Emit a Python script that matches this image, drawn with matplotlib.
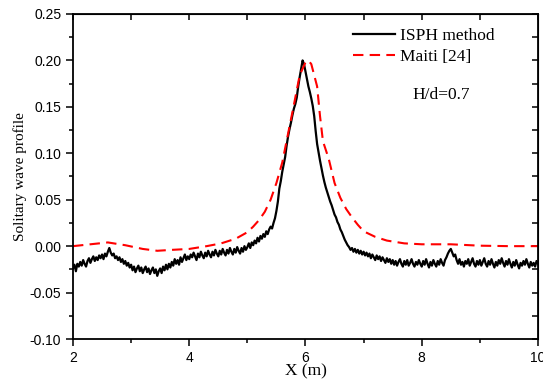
import numpy as np
import matplotlib
matplotlib.use("Agg")
import matplotlib.pyplot as plt

# ISPH method, read every 0.025 m from x=2 to x=10 (values in 1e-3)
isph_x = np.linspace(2.0, 10.0, 321)
isph_y = np.array([
    -24, -20, -27, -19, -22, -17, -21, -15, -19, -22, -16, -13, -18, -14, -11, -16, -12, -15, -10, -13,
    -9, -14, -8, -11, -6, -2, -7, -10, -8, -13, -11, -15, -12, -17, -14, -19, -16, -21, -18, -23,
    -20, -26, -22, -28, -24, -21, -27, -23, -29, -25, -22, -28, -24, -30, -26, -23, -29, -25, -32, -27,
    -24, -29, -22, -26, -20, -25, -19, -23, -17, -21, -14, -19, -15, -20, -12, -17, -13, -9, -15, -11,
    -14, -9, -12, -7, -11, -15, -8, -12, -6, -10, -13, -7, -11, -5, -9, -12, -6, -10, -4, -8,
    -11, -5, -9, -3, -7, -10, -4, -8, -2, -6, -9, -3, -7, -1, -5, -8, -2, -6, 0, -4,
    -1, 3, -2, 4, 1, 6, 3, 9, 5, 11, 8, 13, 10, 16, 13, 18, 21, 19, 25, 30,
    38, 48, 62, 70, 80, 88, 96, 108, 118, 126, 133, 141, 148, 153, 160, 172, 182, 191, 200, 196,
    188, 180, 172, 166, 159, 151, 140, 124, 110, 101, 92, 84, 76, 69, 63, 58, 53, 48, 44, 39,
    34, 31, 26, 23, 18, 15, 11, 7, 4, 1, -1, -4, -2, -6, -3, -7, -4, -8, -5, -9,
    -6, -10, -7, -11, -8, -13, -9, -12, -15, -10, -14, -11, -16, -12, -15, -18, -13, -17, -14, -19,
    -15, -20, -16, -21, -17, -14, -19, -22, -16, -20, -15, -21, -18, -14, -19, -22, -17, -20, -15, -19,
    -22, -16, -20, -14, -19, -23, -17, -21, -15, -19, -22, -16, -20, -14, -18, -21, -15, -12, -8, -5,
    -3, -7, -11, -9, -15, -19, -14, -20, -17, -22, -16, -19, -14, -21, -17, -13, -19, -22, -16, -20,
    -15, -21, -17, -13, -19, -22, -16, -20, -14, -19, -23, -17, -21, -15, -19, -13, -18, -22, -16, -20,
    -14, -19, -23, -17, -21, -15, -20, -24, -18, -21, -16, -20, -14, -19, -23, -17, -21, -18, -22, -16,
    -19]) / 1000.0

# Maiti [24]
maiti_x = [2.0, 2.3, 2.6, 2.9, 3.2, 3.45, 3.7, 4.0, 4.3, 4.55, 4.8, 5.0, 5.1,
           5.2, 5.3, 5.4, 5.5, 5.6, 5.7, 5.8, 5.9, 6.0, 6.05, 6.1, 6.2, 6.25,
           6.3, 6.4, 6.5, 6.6, 6.7, 6.8, 6.9, 7.0, 7.2, 7.4, 7.7, 8.0, 8.5,
           9.0, 9.5, 10.0]
maiti_y = [0.000, 0.002, 0.004, 0.001, -0.003, -0.005, -0.004, -0.003, 0.000,
           0.003, 0.008, 0.015, 0.021, 0.028, 0.037, 0.050, 0.068, 0.090,
           0.121, 0.152, 0.184, 0.198, 0.200, 0.196, 0.172, 0.140, 0.113,
           0.094, 0.068, 0.052, 0.040, 0.031, 0.023, 0.016, 0.010, 0.006,
           0.003, 0.002, 0.002, 0.0005, 0.0, 0.0]

fig = plt.figure(figsize=(5.43, 3.81), dpi=100)
ax = fig.add_axes([0.1344, 0.1102, 0.8564, 0.8531])

ax.plot(isph_x, isph_y, color="black", lw=1.6, label="ISPH method")
ax.plot(maiti_x, maiti_y, color="red", lw=1.5, dashes=(5, 3), label="Maiti [24]")

ax.set_xlim(2, 10)
ax.set_ylim(-0.10, 0.25)
ax.set_xticks([2, 4, 6, 8, 10])
ax.set_xticks([3, 5, 7, 9], minor=True)
ax.set_yticks(np.arange(-0.10, 0.2501, 0.05))
ax.set_yticks(np.arange(-0.075, 0.25, 0.05), minor=True)
ax.set_yticklabels(["%.2f" % v for v in np.arange(-0.10, 0.2501, 0.05)])
ax.set_xticklabels(["2", "4", "6", "8", "10"])

for s in ax.spines.values():
    s.set_linewidth(1.3)
ax.tick_params(which="both", direction="out", width=1.1, labelsize=10,
               labelfontfamily="Liberation Sans")
ax.tick_params(which="major", length=5)
ax.tick_params(which="minor", length=3)

top = ax.secondary_xaxis("top")
top.set_xticks([2, 3, 4, 5, 6, 7, 8, 9, 10])
top.set_xticklabels([])
top.tick_params(direction="in", length=4, width=1.1)
right = ax.secondary_yaxis("right")
right.set_yticks(np.arange(-0.10, 0.2501, 0.025))
right.set_yticklabels([])
right.tick_params(direction="in", length=4, width=1.1)

ax.set_xlabel("X (m)", family="Liberation Serif", fontsize=12.5, labelpad=-1)
ax.set_ylabel("Solitary wave profile", family="Liberation Serif", fontsize=11, labelpad=2)

ax.legend(loc="upper left", bbox_to_anchor=(0.602, 0.957), frameon=False,
          prop={"family": "Liberation Serif", "size": 12.5}, handlelength=2.4,
          handletextpad=0.3, labelspacing=0.28, borderpad=0, borderaxespad=0)
ax.text(0.729, 0.751, "H/d=0.7", transform=ax.transAxes, family="Liberation Serif",
        fontsize=12.5, va="center")

fig.savefig("out.png", dpi=100)
